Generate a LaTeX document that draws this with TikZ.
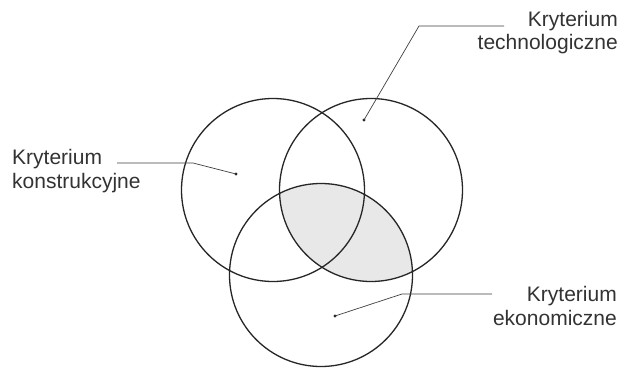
\documentclass[tikz,border=0pt]{standalone}
\usepackage{fontspec}
\setmainfont{Liberation Sans}
\begin{document}
\begin{tikzpicture}[x=1pt,y=-1pt,
  ring/.style={draw=black!85,line width=1.3pt},
  leader/.style={draw=black!75,line width=0.7pt},
  dotmark/.style={circle,fill=black!85,inner sep=0pt,minimum size=3.2pt},
  lbl/.style={text=black!80,font=\fontsize{21}{24}\selectfont,inner sep=0pt}]
\fill[white] (0,0) rectangle (619,369);
\useasboundingbox (0,0) rectangle (619,369);
% shading: bottom ∩ right
\begin{scope}
  \clip (321,275) circle[radius=91.5];
  \fill[black!9] (371,190) circle[radius=91.5];
\end{scope}
% circles
\draw[ring] (273,190) circle[radius=91.5];
\draw[ring] (371,190) circle[radius=91.5];
\draw[ring] (321,275) circle[radius=91.5];
% labels
\node[lbl,anchor=base west] (k1) at (12,164) {Kryterium};
\node[lbl,anchor=base west] (k2) at (12,188) {konstrukcyjne};
\node[lbl,anchor=base east] (t1) at (618,27) {Kryterium};
\node[lbl,anchor=base east] (t2) at (618,50) {technologiczne};
\node[lbl,anchor=base east] (e1) at (617,301) {Kryterium};
\node[lbl,anchor=base east] (e2) at (617,325) {ekonomiczne};
% dots
\node[dotmark] (dk) at (236,174) {};
\node[dotmark] (dt) at (364,120) {};
\node[dotmark] (de) at (335,316) {};
% leader start/bend points
\coordinate (sk) at (117,163);
\coordinate (bk) at (193,163);
\coordinate (st) at (504,26);
\coordinate (bt) at (419,26);
\coordinate (se) at (492,294);
\coordinate (be) at (402,294);
\draw[leader] (sk) -- (bk) -- (dk.center);
\draw[leader] (st) -- (bt) -- (dt.center);
\draw[leader] (se) -- (be) -- (de.center);
\end{tikzpicture}
\end{document}
